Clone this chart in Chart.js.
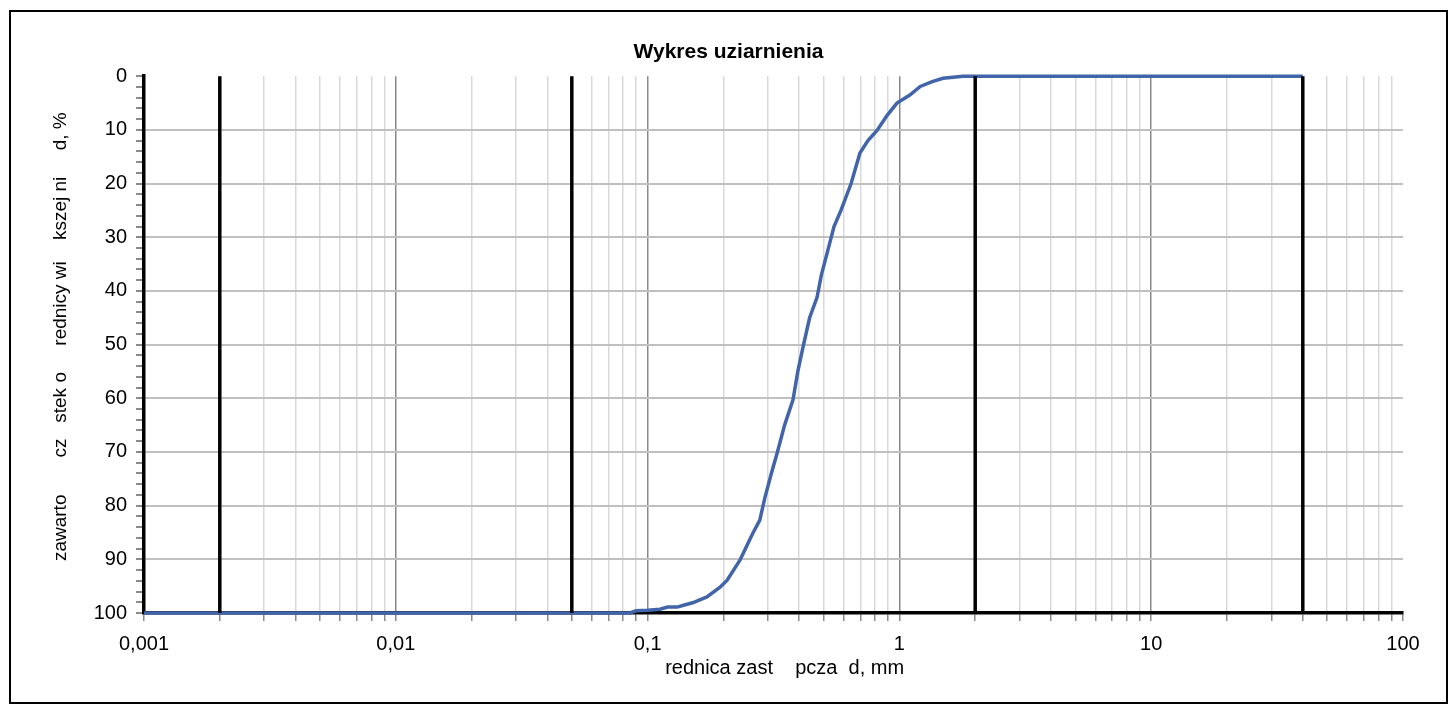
<!DOCTYPE html>
<html>
<head>
<meta charset="utf-8">
<script src="https://cdn.jsdelivr.net/npm/chart.js@4/dist/chart.umd.min.js"></script>
<style>
  body { margin: 0; background: #fff; }
  #frame { position: absolute; left: 9px; top: 10px; width: 1435px; height: 690px; border: 2px solid #000; }
</style>
</head>
<body>
<div id="frame"><canvas id="grainChart" width="1435" height="690"></canvas></div>
<script>
// grain size, mm
var grainSize = [0.001, 0.002, 0.05, 0.085, 0.09, 0.1, 0.112, 0.12, 0.131, 0.14, 0.151, 0.172, 0.194, 0.207,
    0.233, 0.262, 0.279, 0.292, 0.31, 0.327, 0.35, 0.378, 0.395, 0.414, 0.44, 0.471, 0.49, 0.52, 0.55,
    0.586, 0.643, 0.697, 0.75, 0.815, 0.894, 0.978, 1.1, 1.21, 1.35, 1.49, 1.79, 2, 40];
// percent, plotted on reversed axis
var passing = [100, 100, 100, 100, 99.6, 99.5, 99.3, 98.9, 98.9, 98.5, 98.1, 97.0, 95.2, 93.9,
    90.1, 85.1, 82.7, 78.6, 74, 70.2, 65, 60.3, 55, 50.5, 45, 41.2, 37, 32.4, 28,
    25, 20, 14.3, 12, 10.1, 7.3, 5.0, 3.5, 1.9, 1.0, 0.4, 0, 0, 0];
// fraction boundaries (black verticals)
var fractionBounds = [0.002, 0.05, 2, 40];
var xDecades = [0.001, 0.01, 0.1, 1, 10, 100];

var curve = grainSize.map(function (d, i) { return { x: d, y: passing[i] }; });

var datasets = [{
    data: curve,
    borderColor: '#4165a8',
    borderWidth: 3.5,
    pointRadius: 0,
    showLine: true,
    clip: 6,
    order: 2
}];
fractionBounds.forEach(function (b) {
    datasets.push({
        data: [{ x: b, y: 0 }, { x: b, y: 100 }],
        borderColor: '#000',
        borderWidth: 3.5,
        pointRadius: 0,
        showLine: true,
        clip: 6,
        order: 1
    });
});

function isDecade(v) {
    var l = Math.log10(v);
    return Math.abs(l - Math.round(l)) < 1e-9;
}

var ctx = document.getElementById('grainChart').getContext('2d');
var chart = new Chart(ctx, {
    type: 'scatter',
    data: { datasets: datasets },
    options: {
        responsive: false,
        animation: false,
        devicePixelRatio: 1,
        layout: { padding: 0 },
        plugins: {
            legend: { display: false },
            tooltip: { enabled: false },
            title: {
                display: true,
                text: 'Wykres uziarnienia',
                color: '#000',
                font: { family: 'Liberation Sans', size: 21, weight: 'bold' },
                padding: { top: 28, bottom: 11 }
            }
        },
        scales: {
            x: {
                type: 'logarithmic',
                min: 0.001,
                max: 100,
                afterBuildTicks: function (scale) {
                    var t = [];
                    for (var e = -3; e <= 1; e++) {
                        for (var m = 1; m <= 9; m++) {
                            t.push({ value: Number((m * Math.pow(10, e)).toPrecision(3)) });
                        }
                    }
                    t.push({ value: 100 });
                    scale.ticks = t;
                },
                afterFit: function (scale) { scale.height = 89; },
                ticks: {
                    autoSkip: false,
                    maxRotation: 0,
                    color: '#000',
                    padding: 11,
                    font: { family: 'Liberation Sans', size: 20 },
                    callback: function (v) {
                        if (xDecades.indexOf(v) >= 0 || isDecade(v)) return String(v).replace('.', ',');
                        return '';
                    }
                },
                grid: {
                    lineWidth: 1.5,
                    color: function (c) {
                        var v = c.tick ? c.tick.value : 0;
                        if (v >= 100) return 'rgba(0,0,0,0)';
                        return isDecade(v) ? '#8a8a8a' : '#d9d9d9';
                    },
                    tickColor: '#8a8a8a',
                    tickLength: 8
                },
                border: { display: true, color: '#000', width: 3.5 },
                title: {
                    display: true,
                    text: '    rednica zast    pcza  d, mm',
                    color: '#000',
                    font: { family: 'Liberation Sans', size: 20 },
                    padding: { top: 0, bottom: 22 }
                }
            },
            y: {
                min: 0,
                max: 100,
                reverse: true,
                afterFit: function (scale) { scale.width = 133; },
                ticks: {
                    stepSize: 2,
                    autoSkip: false,
                    color: '#000',
                    padding: 9,
                    font: { family: 'Liberation Sans', size: 20 },
                    callback: function (v) { return v % 10 === 0 ? String(v) : ''; }
                },
                grid: {
                    lineWidth: 2,
                    color: function (c) {
                        var v = c.tick ? c.tick.value : 0;
                        return (v % 10 === 0 && v > 0 && v < 100) ? '#c0c0c0' : 'rgba(0,0,0,0)';
                    },
                    tickColor: '#8a8a8a',
                    tickLength: 8
                },
                border: { display: true, color: '#000', width: 3.5 },
                title: {
                    display: true,
                    text: '   zawarto       cz   stek o     rednicy wi    kszej ni     d, %',
                    color: '#000',
                    font: { family: 'Liberation Sans', size: 19 },
                    padding: { top: 38, bottom: 0 }
                }
            },
            yRight: {
                position: 'right',
                display: true,
                afterFit: function (scale) { scale.width = 43; },
                ticks: { display: false },
                grid: { display: false },
                border: { display: false }
            }
        }
    }
});
</script>
</body>
</html>
